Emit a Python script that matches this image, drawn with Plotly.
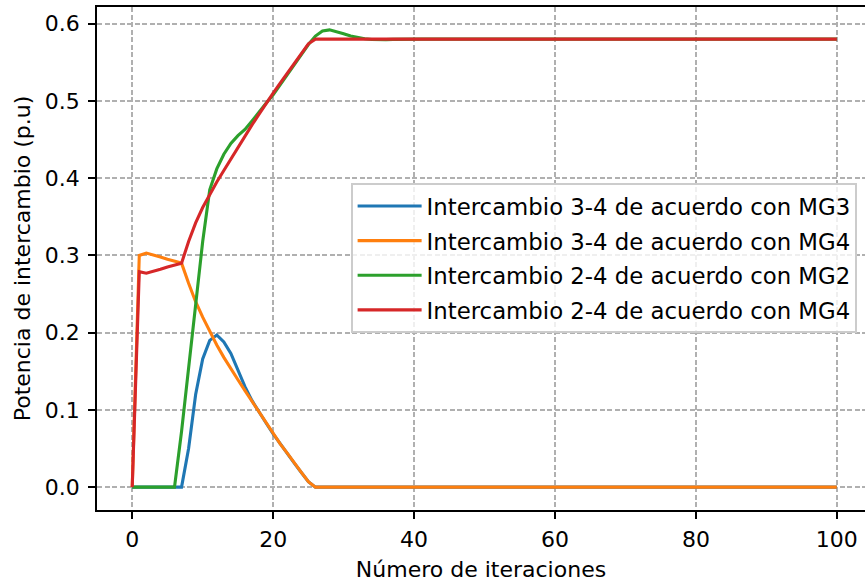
import plotly.graph_objects as go

iterations = list(range(101))

blue_head = [0.0, 0.0, 0.0, 0.0, 0.0, 0.0, 0.0, 0.0, 0.050, 0.120, 0.166, 0.190, 0.197, 0.188,
             0.173, 0.151, 0.130, 0.112, 0.097, 0.083, 0.069, 0.056, 0.044, 0.031, 0.019, 0.007, 0.0]
orange_head = [0.0, 0.300, 0.303, 0.301, 0.298, 0.295, 0.292, 0.290, 0.264, 0.240, 0.220, 0.201,
               0.184, 0.168, 0.153, 0.139, 0.125, 0.111, 0.097, 0.083, 0.069, 0.056, 0.044, 0.031,
               0.019, 0.007, 0.0]
green_head = [0.0, 0.0, 0.0, 0.0, 0.0, 0.0, 0.0, 0.072, 0.155, 0.240, 0.318, 0.385, 0.412, 0.431,
              0.445, 0.455, 0.463, 0.474, 0.486, 0.497, 0.508, 0.521, 0.534, 0.548, 0.561, 0.573,
              0.584, 0.5905, 0.592, 0.590, 0.587, 0.584, 0.582, 0.5805, 0.5795, 0.579, 0.5793,
              0.5797, 0.580]
red_head = [0.0, 0.279, 0.277, 0.279, 0.282, 0.285, 0.288, 0.290, 0.318, 0.342, 0.362, 0.379,
            0.395, 0.410, 0.425, 0.440, 0.455, 0.469, 0.483, 0.497, 0.510, 0.523, 0.536, 0.549,
            0.562, 0.574, 0.580]

blue = blue_head + [0.0] * (101 - len(blue_head))
orange = orange_head + [0.0] * (101 - len(orange_head))
green = green_head + [0.580] * (101 - len(green_head))
red = red_head + [0.580] * (101 - len(red_head))

names = ["Intercambio 3-4 de acuerdo con MG3", "Intercambio 3-4 de acuerdo con MG4",
         "Intercambio 2-4 de acuerdo con MG2", "Intercambio 2-4 de acuerdo con MG4"]
colors = ["#1f77b4", "#ff7f0e", "#2ca02c", "#d62728"]
series = [blue, orange, green, red]

x_ticks = [0, 20, 40, 60, 80, 100]
y_ticks = [0.0, 0.1, 0.2, 0.3, 0.4, 0.5, 0.6]

FONT = "DejaVu Sans"
FS = 22
LFS = 22.8

fig = go.Figure()
for i, (nm, col, ys) in enumerate(zip(names, colors, series)):
    fig.add_trace(go.Scatter(x=iterations, y=ys, mode="lines", name=nm,
                             legendgroup=f"g{i}",
                             line=dict(color=col, width=3.1)))

fig.update_layout(
    width=865, height=582,
    margin=dict(l=97, r=0, t=7, b=72),
    plot_bgcolor="white", paper_bgcolor="white",
    font=dict(family=FONT, size=FS, color="black"),
    showlegend=True,
    legend=dict(x=0.9896, xanchor="right", y=0.65, yanchor="top",
                bgcolor="rgba(255,255,255,0.8)", bordercolor="#cccccc", borderwidth=1.6,
                font=dict(family=FONT, size=LFS, color="black"),
                tracegroupgap=2, itemwidth=64),
)
fig.update_xaxes(
    range=[-5.0, 104.0], tickvals=x_ticks, ticktext=[str(v) for v in x_ticks],
    showline=True, linecolor="black", linewidth=1.7, mirror=True,
    ticks="outside", ticklen=7, tickwidth=1.7, tickcolor="black", ticklabelstandoff=2,
    showgrid=True, gridcolor="#b0b0b0", gridwidth=1.6, griddash="5px,2.5px",
    zeroline=False,
    title=dict(text="Número de iteraciones", standoff=10, font=dict(family=FONT, size=FS)),
)
fig.update_yaxes(
    range=[-0.0296, 0.6216], tickvals=y_ticks, ticktext=[f"{v:.1f}" for v in y_ticks],
    showline=True, linecolor="black", linewidth=1.7, mirror=False,
    ticks="outside", ticklen=7, tickwidth=1.7, tickcolor="black", ticklabelstandoff=4,
    showgrid=True, gridcolor="#b0b0b0", gridwidth=1.6, griddash="5px,2.5px",
    zeroline=False,
    title=dict(text="Potencia de intercambio (p.u)", standoff=8, font=dict(family=FONT, size=FS)),
)

fig.write_html("out.html", config={"displayModeBar": False},
               post_script="document.body.style.margin='0';document.body.style.overflow='hidden';")
